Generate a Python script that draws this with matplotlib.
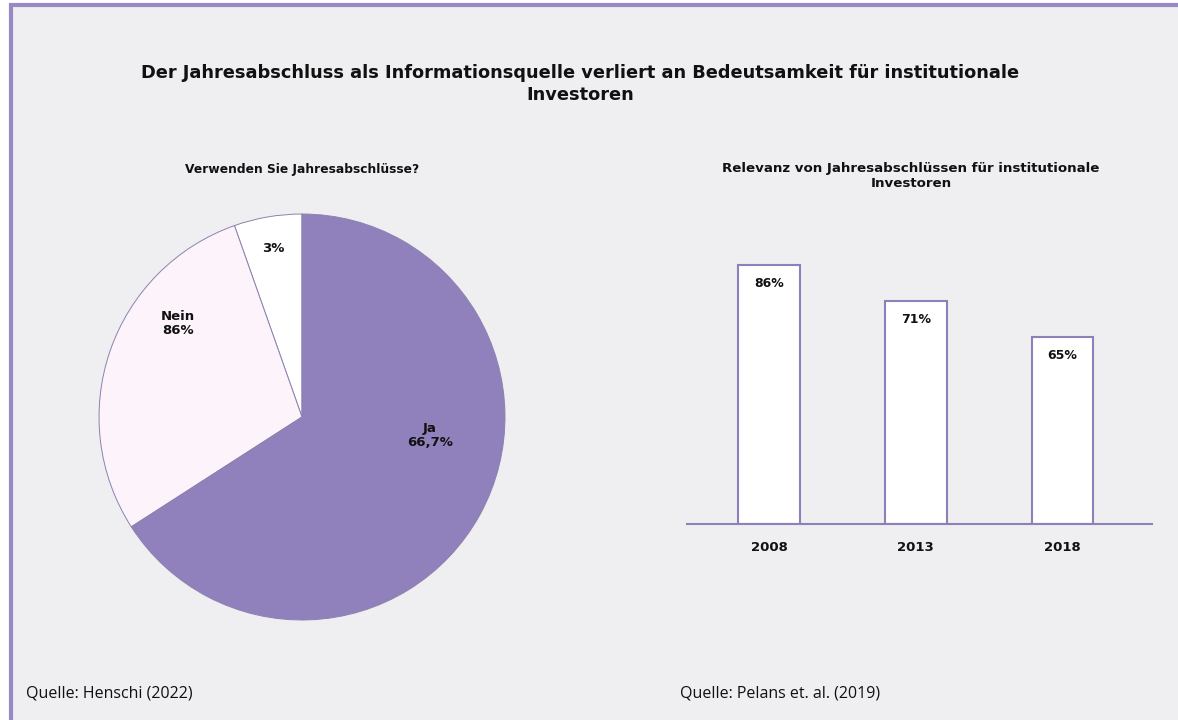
import numpy as np
import matplotlib
matplotlib.use('Agg')
import matplotlib.pyplot as plt
from matplotlib.patches import Rectangle

# Pie: slice sizes as drawn (counterclockwise from 12 o'clock), labels as printed
pie_sizes = [5.4, 28.7, 65.9]
pie_labels = ['3%', 'Nein\n86%', 'Ja\n66,7%']
pie_colors = ['#FFFFFF', '#FDF3FB', '#9080BB']

# Bars: years, drawn heights and printed labels
years = ['2008', '2013', '2018']
bar_heights = [86, 74, 62]
bar_labels = ['86%', '71%', '65%']

W, H = 1178, 720
bg = '#EFEEF1'
purple = '#8F80BA'
title_font = 'DejaVu Sans'

fig = plt.figure(figsize=(W / 100, H / 100), dpi=100, facecolor='white')

def px(x0, y0, w, h):
    # pixel box (left, top, width, height) -> figure fraction
    return [x0 / W, 1 - (y0 + h) / H, w / W, h / H]

# background panel with purple border (top and left)
fig.patches.append(Rectangle((10.5 / W, -0.05), 1.1, 1.05 - 4.5 / H,
                             transform=fig.transFigure, facecolor=bg,
                             edgecolor='#9888C3', linewidth=3, zorder=-5))

fig.text(580 / W, 1 - 84 / H,
         'Der Jahresabschluss als Informationsquelle verliert an Bedeutsamkeit für institutionale\nInvestoren',
         ha='center', va='center', fontsize=12.8, fontweight='bold',
         family=title_font, color='#111111', linespacing=1.25)

# ---- pie ----
cx, cy, R = 302, 417, 205
ax1 = fig.add_axes(px(cx - R, cy - R, 2 * R, 2 * R))
ax1.set_facecolor('none')
wedges, _ = ax1.pie(pie_sizes, colors=pie_colors, startangle=90, counterclock=True,
                    radius=1, wedgeprops=dict(edgecolor='#8C82AE', linewidth=0.7))
ax1.set_xlim(-1.01, 1.01)
ax1.set_ylim(-1.01, 1.01)
ax1.set_aspect('equal')
ax1.axis('off')
label_pos = [(-0.14, 0.83), (-0.61, 0.46), (0.63, -0.09)]
for (lx, ly), lab in zip(label_pos, pie_labels):
    ax1.text(lx, ly, lab, ha='center', va='center', fontsize=9.5, fontweight='bold',
             family=title_font, color='#111111', linespacing=1.15)

fig.text(cx / W, 1 - 170 / H, 'Verwenden Sie Jahresabschlüsse?', ha='center', va='center',
         fontsize=8.8, fontweight='bold', family=title_font, color='#111111')

# ---- bars ----
ax2 = fig.add_axes(px(687, 524 - 301, 1152 - 687, 301))
ax2.set_facecolor('none')
x = np.arange(len(years))
bars = ax2.bar(x, bar_heights, width=0.42, color='white', edgecolor=purple, linewidth=1.5)
ax2.set_xlim(-0.56, 2.61)
ax2.set_ylim(0, 100)
for s in ['top', 'right', 'left']:
    ax2.spines[s].set_visible(False)
ax2.spines['bottom'].set_color(purple)
ax2.spines['bottom'].set_linewidth(1.5)
ax2.set_yticks([])
ax2.set_xticks(x)
ax2.set_xticklabels(years, fontsize=9.5, fontweight='bold', family=title_font, color='#111111')
ax2.tick_params(axis='x', length=0, pad=12)
for b, lab in zip(bars, bar_labels):
    ax2.annotate(lab, (b.get_x() + b.get_width() / 2, b.get_height()),
                 xytext=(0, -13), textcoords='offset points', ha='center', va='center',
                 fontsize=9, fontweight='bold', family=title_font, color='#111111')

fig.text(911 / W, 1 - 176 / H, 'Relevanz von Jahresabschlüssen für institutionale\nInvestoren',
         ha='center', va='center', fontsize=9.6, fontweight='bold', family=title_font,
         color='#111111', linespacing=1.15)

# sources
fig.text(26 / W, 1 - 693 / H, 'Quelle: Henschi (2022)', ha='left', va='center',
         fontsize=11.5, family='Open Sans', color='#111111')
fig.text(680 / W, 1 - 693 / H, 'Quelle: Pelans et. al. (2019)', ha='left', va='center',
         fontsize=11.5, family='Open Sans', color='#111111')

fig.savefig('out.png', dpi=100, facecolor=fig.get_facecolor())
